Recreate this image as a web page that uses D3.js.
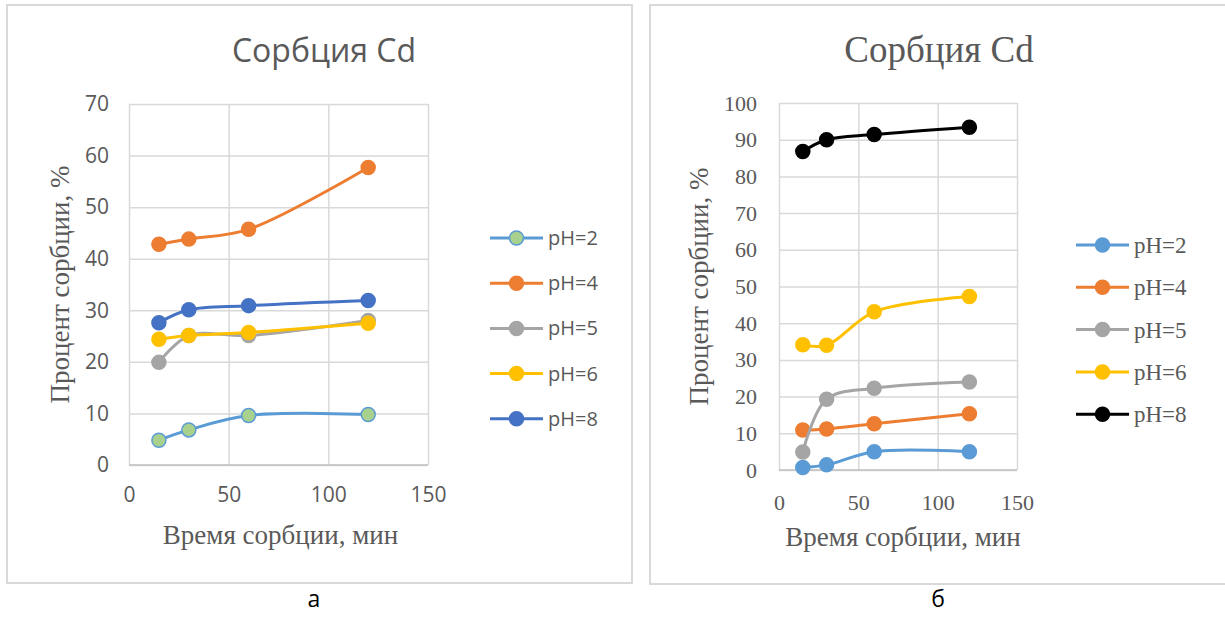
<!DOCTYPE html>
<html>
<head>
<meta charset="utf-8">
<script src="https://cdn.jsdelivr.net/npm/d3@7"></script>
<style>
  body { margin: 0; background: #fff; }
</style>
</head>
<body>
<div id="viz"></div>
<script>
// time of sorption, min
const timeMin = [15, 30, 60, 120];
const seriesNames = ["pH=2", "pH=4", "pH=5", "pH=6", "pH=8"];
const xTicks = [0, 50, 100, 150];
const yTicksA = [0, 10, 20, 30, 40, 50, 60, 70];
const yTicksB = [0, 10, 20, 30, 40, 50, 60, 70, 80, 90, 100];

// panel "а"
const aPH2 = [4.8, 6.8, 9.6, 9.8];
const aPH4 = [42.8, 43.8, 45.7, 57.7];
const aPH5 = [19.9, 25.1, 25.1, 28.0];
const aPH6 = [24.4, 25.1, 25.7, 27.5];
const aPH8 = [27.6, 30.1, 30.9, 31.9];

// panel "б"
const bPH2 = [0.7, 1.4, 5.0, 5.0];
const bPH4 = [10.9, 11.2, 12.6, 15.3];
const bPH5 = [4.9, 19.3, 22.3, 24.0];
const bPH6 = [34.1, 34.0, 43.1, 47.3];
const bPH8 = [86.8, 90.0, 91.4, 93.4];

const colorsA = ["#5B9BD5", "#ED7D31", "#A5A5A5", "#FFC000", "#4472C4"];
const colorsB = ["#5B9BD5", "#ED7D31", "#A5A5A5", "#FFC000", "#000000"];

const W = 1225, H = 617;
const svg = d3.select("#viz").append("svg")
  .attr("width", W)
  .attr("height", H);

function drawPanel(p) {
  const g = svg.append("g");

  // chart frame
  g.append("rect")
    .attr("x", p.box[0]).attr("y", p.box[1])
    .attr("width", p.box[2]).attr("height", p.box[3])
    .attr("fill", "#fff")
    .attr("stroke", "#D9D9D9")
    .attr("stroke-width", 2);

  const x = d3.scaleLinear().domain([0, 150]).range(p.xRange);
  const y = d3.scaleLinear().domain([0, p.yMax]).range(p.yRange);

  // gridlines
  g.append("g")
    .attr("transform", `translate(${p.xRange[0]},0)`)
    .call(d3.axisLeft(y).tickValues(p.yTicks).tickSize(-(p.xRange[1] - p.xRange[0])).tickFormat(""))
    .call(a => a.select(".domain").remove())
    .call(a => a.selectAll("line").attr("stroke", "#D9D9D9").attr("stroke-width", 1.5));
  g.append("g")
    .attr("transform", `translate(0,${p.yRange[0]})`)
    .call(d3.axisBottom(x).tickValues(xTicks).tickSize(-(p.yRange[0] - p.yRange[1])).tickFormat(""))
    .call(a => a.select(".domain").remove())
    .call(a => a.selectAll("line").attr("stroke", "#D9D9D9").attr("stroke-width", 1.5));
  // x axis line
  g.append("line")
    .attr("x1", p.xRange[0]).attr("x2", p.xRange[1])
    .attr("y1", p.yRange[0]).attr("y2", p.yRange[0])
    .attr("stroke", "#BFBFBF").attr("stroke-width", 1.5);

  // tick labels
  g.append("g")
    .attr("transform", `translate(${p.xRange[0]},0)`)
    .call(d3.axisLeft(y).tickValues(p.yTicks).tickSize(0).tickPadding(p.yPad))
    .call(a => a.select(".domain").remove())
    .call(a => a.selectAll("text")
      .attr("fill", "#595959")
      .style("font-family", p.tickFont)
      .style("font-size", p.tickSize + "px"));
  g.append("g")
    .attr("transform", `translate(0,${p.yRange[0]})`)
    .call(d3.axisBottom(x).tickValues(xTicks).tickSize(0).tickPadding(p.xPad))
    .call(a => a.select(".domain").remove())
    .call(a => a.selectAll("text")
      .attr("fill", "#595959")
      .style("font-family", p.tickFont)
      .style("font-size", p.tickSize + "px"));

  // title
  g.append("text")
    .attr("x", p.titleX).attr("y", 62)
    .attr("text-anchor", "middle")
    .attr("fill", "#595959")
    .style("font-family", p.titleFont)
    .style("font-size", p.titleSize + "px")
    .text("Сорбция Cd");

  // axis titles
  g.append("text")
    .attr("x", (p.xRange[0] + p.xRange[1]) / 2 + p.xTitleShift)
    .attr("y", p.xTitleY)
    .attr("text-anchor", "middle")
    .attr("fill", "#595959")
    .style("font-family", "'Liberation Serif', serif")
    .style("font-size", "27px")
    .text("Время сорбции, мин");
  g.append("text")
    .attr("transform", `translate(${p.yTitleX},${(p.yRange[0] + p.yRange[1]) / 2}) rotate(-90)`)
    .attr("text-anchor", "middle")
    .attr("dy", "0.35em")
    .attr("fill", "#595959")
    .style("font-family", "'Liberation Serif', serif")
    .style("font-size", "27px")
    .text("Процент сорбции, %");

  // series
  const line = d3.line()
    .x((d, i) => x(timeMin[i]))
    .y(d => y(d))
    .curve(d3.curveCatmullRom);

  p.series.forEach((vals, k) => {
    const c = p.colors[k];
    const fill = p.markerFill[k] || c;
    g.append("path")
      .datum(vals)
      .attr("fill", "none")
      .attr("stroke", c)
      .attr("stroke-width", 3)
      .attr("d", line);
    g.selectAll(null)
      .data(vals)
      .enter()
      .append("circle")
      .attr("cx", (d, i) => x(timeMin[i]))
      .attr("cy", d => y(d))
      .attr("r", 7)
      .attr("fill", fill)
      .attr("stroke", c)
      .attr("stroke-width", 1.5);
  });

  // legend
  seriesNames.forEach((name, k) => {
    const ly = p.legendY + k * p.legendStep;
    const c = p.colors[k];
    g.append("line")
      .attr("x1", p.legendX).attr("x2", p.legendX + 53)
      .attr("y1", ly).attr("y2", ly)
      .attr("stroke", c).attr("stroke-width", 3);
    g.append("circle")
      .attr("cx", p.legendX + 26.5).attr("cy", ly)
      .attr("r", 7)
      .attr("fill", p.markerFill[k] || c)
      .attr("stroke", c).attr("stroke-width", 1.5);
    g.append("text")
      .attr("x", p.legendX + 58).attr("y", ly)
      .attr("dy", "0.35em")
      .attr("fill", "#595959")
      .style("font-family", p.legendFont)
      .style("font-size", p.legendSize + "px")
      .text(name);
  });

  // caption under the chart
  g.append("text")
    .attr("x", p.captionX).attr("y", 607)
    .attr("text-anchor", "middle")
    .attr("fill", "#000")
    .style("font-family", "'Open Sans', sans-serif")
    .style("font-size", "23px")
    .text(p.caption);
}

drawPanel({
  box: [7, 5, 625, 578],
  xRange: [129, 428], yRange: [465, 104], yMax: 70, yTicks: yTicksA,
  tickFont: "'Open Sans', sans-serif", tickSize: 21, yPad: 20, xPad: 22,
  titleFont: "'Open Sans', sans-serif", titleSize: 32, titleX: 324,
  xTitleY: 544, xTitleShift: 2, yTitleX: 60,
  series: [aPH2, aPH4, aPH5, aPH6, aPH8],
  colors: colorsA, markerFill: ["#A9D18E"],
  legendX: 490, legendY: 238, legendStep: 45.2,
  legendFont: "'Open Sans', sans-serif", legendSize: 20,
  caption: "а", captionX: 314
});

drawPanel({
  box: [650, 5, 600, 579],
  xRange: [779, 1017], yRange: [470, 103], yMax: 100, yTicks: yTicksB,
  tickFont: "'Liberation Serif', serif", tickSize: 22, yPad: 22, xPad: 24,
  titleFont: "'Liberation Serif', serif", titleSize: 37, titleX: 939,
  xTitleY: 546, xTitleShift: 5, yTitleX: 699,
  series: [bPH2, bPH4, bPH5, bPH6, bPH8],
  colors: colorsB, markerFill: [],
  legendX: 1076, legendY: 245, legendStep: 42.3,
  legendFont: "'Liberation Serif', serif", legendSize: 23,
  caption: "б", captionX: 938
});
</script>
</body>
</html>
